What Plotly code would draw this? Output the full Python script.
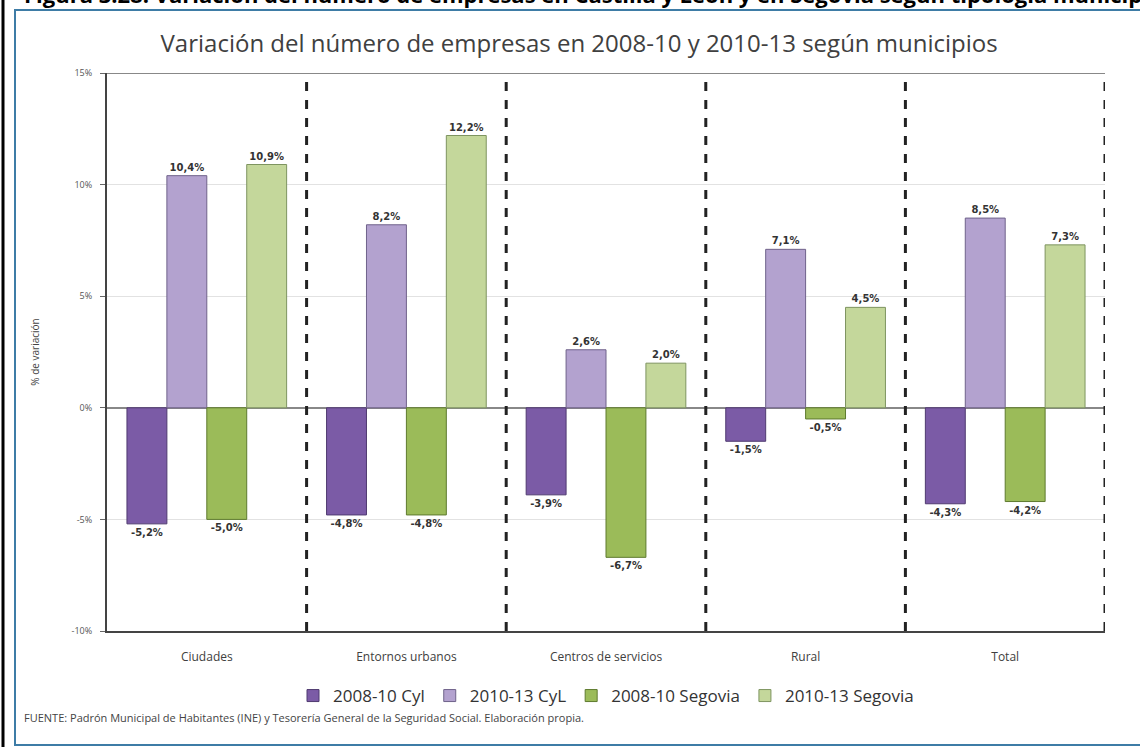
import plotly.graph_objects as go

categories = ["Ciudades", "Entornos urbanos", "Centros de servicios", "Rural", "Total"]
series_names = ["2008-10 Cyl", "2010-13 CyL", "2008-10 Segovia", "2010-13 Segovia"]
cyl_0810 = [-5.2, -4.8, -3.9, -1.5, -4.3]
cyl_1013 = [10.4, 8.2, 2.6, 7.1, 8.5]
seg_0810 = [-5.0, -4.8, -6.7, -0.5, -4.2]
seg_1013 = [10.9, 12.2, 2.0, 4.5, 7.3]
y_ticks = [-10, -5, 0, 5, 10, 15]

fills = ["#7B5BA6", "#B3A2CF", "#9BBB59", "#C4D79B"]
outlines = ["#4F3A70", "#6F628A", "#5E7A2E", "#7E9460"]
values = [cyl_0810, cyl_1013, seg_0810, seg_1013]

L, R, T, B = 107, 35, 73, 116
W, H = 1140, 747
PW, PH = W - L - R, H - T - B


def px(p):
    return (p - L) / PW


def py(p):
    return (H - B - p) / PH


fig = go.Figure()
for name, vals, fc, lc in zip(series_names, values, fills, outlines):
    fig.add_trace(go.Bar(
        x=categories, y=vals, name=name,
        marker=dict(color=fc, line=dict(color=lc, width=1)),
        text=[f"{v:.1f}%".replace(".", ",") for v in vals],
        textposition="outside",
        textfont=dict(family="DejaVu Sans", size=10, color="#333333"),
        cliponaxis=False,
        texttemplate="<b>%{text}</b>",
    ))

# dashed separators between categories
for i in range(len(categories)):
    fig.add_shape(type="line", xref="x", yref="y",
                  x0=i + 0.5, x1=i + 0.5, y0=-10, y1=15,
                  line=dict(color="#222222", width=3, dash="dash"))

# top border at 15%
fig.add_shape(type="line", xref="paper", yref="y", x0=0, x1=1, y0=15, y1=15,
              line=dict(color="#888888", width=2))

# outer frame
fig.add_shape(type="rect", xref="paper", yref="paper",
              x0=px(15), x1=px(1150), y0=py(745), y1=py(10),
              line=dict(color="#3E7CA6", width=2), layer="below")
fig.add_shape(type="line", xref="paper", yref="paper",
              x0=px(3), x1=px(3), y0=py(760), y1=py(-10),
              line=dict(color="#000000", width=3))

fig.update_layout(
    width=W, height=H,
    margin=dict(l=L, r=R, t=T, b=B),
    paper_bgcolor="white", plot_bgcolor="white",
    barmode="group", bargap=0.2, bargroupgap=0,
    title=dict(text="Variación del número de empresas en 2008-10 y 2010-13 según municipios",
               x=0.508, xanchor="center", y=1 - 44 / H, yanchor="middle",
               font=dict(family="Open Sans", size=24, color="#404040")),
    font=dict(family="Open Sans", color="#404040"),
    xaxis=dict(showgrid=False, showline=True, linecolor="#444444", linewidth=2,
               tickfont=dict(size=12, color="#404040"), ticks="",
               ticklabelstandoff=14, automargin=False,
               range=[-0.5, 4.5], mirror=False),
    yaxis=dict(range=[-10, 15], tickvals=y_ticks,
               ticktext=[f"{t}%" for t in y_ticks],
               showgrid=True, gridcolor="#E2E2E2", gridwidth=1,
               zeroline=True, zerolinecolor="#888888", zerolinewidth=1.5,
               showline=True, linecolor="#444444", linewidth=2,
               ticks="outside", ticklen=5, tickcolor="#666666",
               ticklabelstandoff=6,
               tickfont=dict(size=9, color="#555555"), automargin=False,
               title=dict(text="% de variación", font=dict(size=10, color="#444444"), standoff=30)),
    legend=dict(orientation="h", x=0.5, xanchor="center", y=py(678), yanchor="top",
                font=dict(size=17, color="#333333"), itemwidth=30,
                traceorder="normal"),
    showlegend=True,
)

fig.add_annotation(text="FUENTE: Padrón Municipal de Habitantes (INE) y Tesorería General de la Seguridad Social. Elaboración propia.",
                   xref="paper", yref="paper", x=px(22), y=py(717),
                   xanchor="left", yanchor="middle", showarrow=False,
                   font=dict(family="Open Sans", size=11, color="#444444"))

fig.add_annotation(text="<b>Figura 3.28: Variación del número de empresas en Castilla y León y en Segovia según tipología municipal</b>",
                   xref="paper", yref="paper", x=px(22), y=py(-6),
                   xanchor="left", yanchor="middle", showarrow=False,
                   font=dict(family="Open Sans", size=22, color="#000000"))

fig.write_html("out.html", config={"displayModeBar": False},
               post_script="document.body.style.margin='0px';")
